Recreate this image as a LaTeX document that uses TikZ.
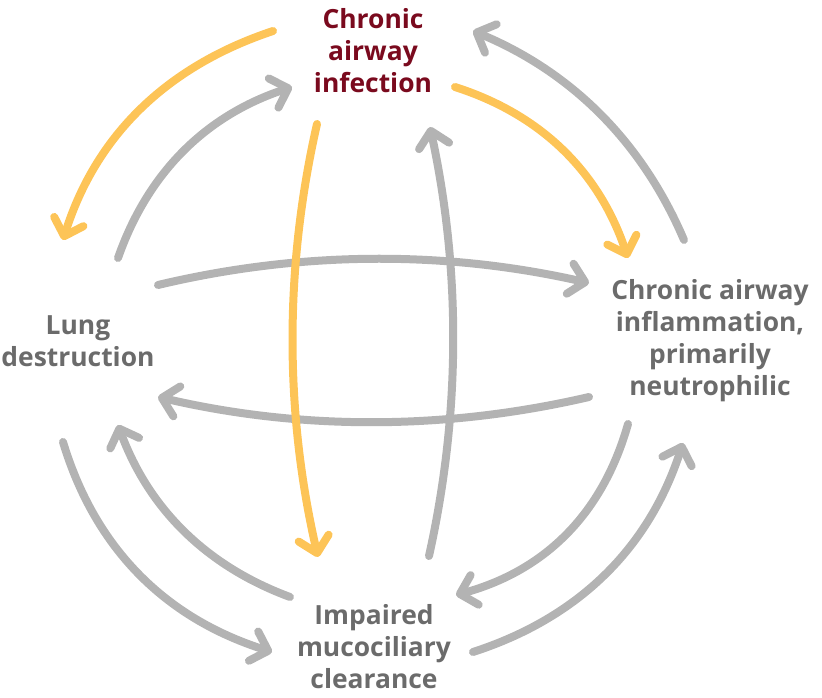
\documentclass[tikz,border=0pt]{standalone}
\usepackage{fontspec}
\setmainfont{Open Sans}
\usetikzlibrary{arrows.meta,calc}
\definecolor{cgrey}{HTML}{B3B3B3}
\definecolor{cyellow}{HTML}{FDC457}
\definecolor{cred}{HTML}{7A0A1E}
\definecolor{ctext}{HTML}{6B6B6B}
\tikzset{
  lbl/.style={align=center, inner sep=0pt, font=\bfseries\fontsize{19.8}{24}\selectfont, text=ctext},
  arr/.style={line width=6pt, line cap=round, line join=round,
    -{Straight Barb[length=11.5pt,width=23pt,round]}},
  garr/.style={arr, draw=cgrey},
  yarr/.style={arr, draw=cyellow},
}
% quadratic curve from #2 to #4 with control #3
\newcommand{\qcurve}[4]{\draw[#1] (#2) .. controls ($(#2)!2/3!(#3)$) and ($(#4)!2/3!(#3)$) .. (#4);}
\begin{document}
\begin{tikzpicture}[x=0.75pt,y=-0.75pt]
\useasboundingbox (0,0) rectangle (822,698);
% text nodes
\node[lbl, text=cred] (inf) at (373,51) {Chronic\\airway\\infection};
\node[lbl] (lung) at (78,341) {Lung\\destruction};
\node[lbl] (infl) at (710,341) {Chronic airway\\inflammation,\\primarily\\neutrophilic};
\node[lbl] (muc) at (374,647) {Impaired\\mucociliary\\clearance};
% connector end points and control points
\coordinate (a1s) at (273,31);  \coordinate (a1e) at (63,240);  \coordinate (a1c) at (112,84.5);
\coordinate (a2s) at (118,258); \coordinate (a2e) at (292,87);  \coordinate (a2c) at (163,129.5);
\coordinate (a3s) at (317,124); \coordinate (a3e) at (318,557); \coordinate (a3c) at (268,339.5);
\coordinate (a4s) at (429,556); \coordinate (a4e) at (430,127); \coordinate (a4c) at (476.5,342.5);
\coordinate (a5s) at (455,87);  \coordinate (a5e) at (628,258); \coordinate (a5c) at (584.5,128.5);
\coordinate (a6s) at (684,240); \coordinate (a6e) at (473,31);  \coordinate (a6c) at (621,92.5);
\coordinate (a7s) at (158,285); \coordinate (a7e) at (589,283); \coordinate (a7c) at (372.5,234);
\coordinate (a8s) at (589,397); \coordinate (a8e) at (158,397); \coordinate (a8c) at (373,447);
\coordinate (a9s) at (63,442);  \coordinate (a9e) at (272,652); \coordinate (a9c) at (111,601);
\coordinate (a10s) at (290,597); \coordinate (a10e) at (118,425); \coordinate (a10c) at (164,550.4);
\coordinate (a11s) at (628,424); \coordinate (a11e) at (456,595); \coordinate (a11c) at (590,558.5);
\coordinate (a12s) at (473,652); \coordinate (a12e) at (683,443); \coordinate (a12c) at (632,600.5);
% grey connectors
\qcurve{garr}{a2s}{a2c}{a2e}
\qcurve{garr}{a4s}{a4c}{a4e}
\qcurve{garr}{a6s}{a6c}{a6e}
\qcurve{garr}{a7s}{a7c}{a7e}
\qcurve{garr}{a8s}{a8c}{a8e}
\qcurve{garr}{a9s}{a9c}{a9e}
\qcurve{garr}{a10s}{a10c}{a10e}
\qcurve{garr}{a11s}{a11c}{a11e}
\qcurve{garr}{a12s}{a12c}{a12e}
% yellow connectors
\qcurve{yarr}{a1s}{a1c}{a1e}
\qcurve{yarr}{a3s}{a3c}{a3e}
\qcurve{yarr}{a5s}{a5c}{a5e}
\end{tikzpicture}
\end{document}
